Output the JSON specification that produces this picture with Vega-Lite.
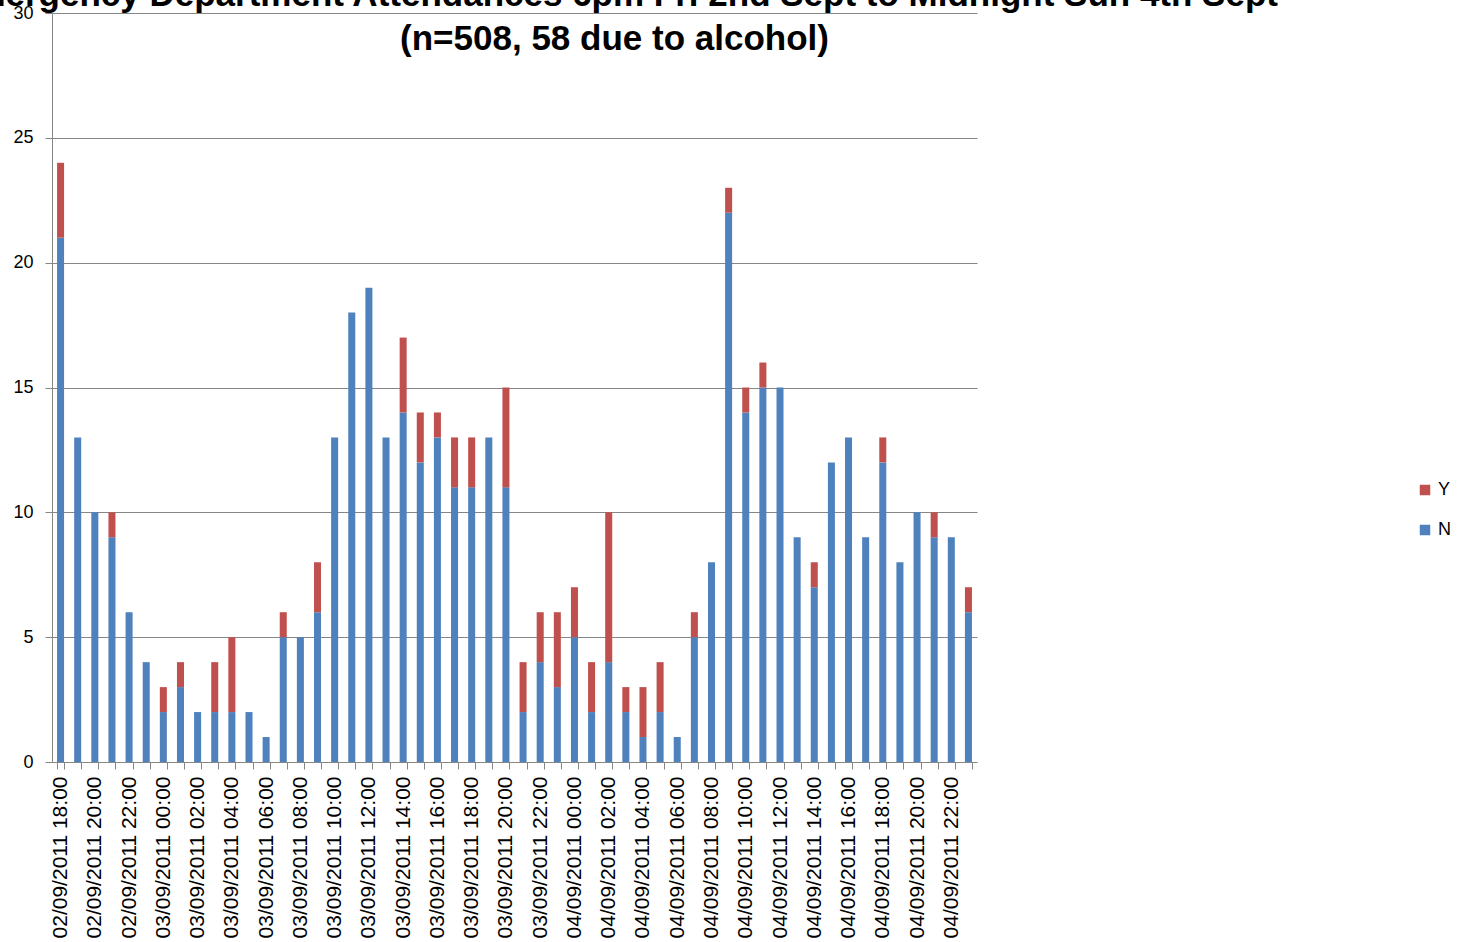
{
  "$schema": "https://vega.github.io/schema/vega-lite/v6.json",
  "autosize": {"type": "none"},
  "padding": {"left": 52, "top": 13, "right": 481, "bottom": 180},
  "width": 925,
  "height": 749,
  "background": "white",
  "title": {
    "text": ["Emergency Department Attendances 6pm Fri 2nd Sept to Midnight Sun 4th Sept", "(n=508, 58 due to alcohol)"],
    "font": "Liberation Sans",
    "fontSize": 35,
    "fontWeight": "bold",
    "color": "black",
    "anchor": "middle",
    "frame": "group",
    "baseline": "bottom",
    "lineHeight": 44,
    "dx": 100,
    "offset": -88
  },
  "data": {
    "values": [
      {"t": "02/09/2011 18:00", "alc": "N", "n": 21}, {"t": "02/09/2011 18:00", "alc": "Y", "n": 3},
      {"t": "02/09/2011 19:00", "alc": "N", "n": 13},
      {"t": "02/09/2011 20:00", "alc": "N", "n": 10},
      {"t": "02/09/2011 21:00", "alc": "N", "n": 9}, {"t": "02/09/2011 21:00", "alc": "Y", "n": 1},
      {"t": "02/09/2011 22:00", "alc": "N", "n": 6},
      {"t": "02/09/2011 23:00", "alc": "N", "n": 4},
      {"t": "03/09/2011 00:00", "alc": "N", "n": 2}, {"t": "03/09/2011 00:00", "alc": "Y", "n": 1},
      {"t": "03/09/2011 01:00", "alc": "N", "n": 3}, {"t": "03/09/2011 01:00", "alc": "Y", "n": 1},
      {"t": "03/09/2011 02:00", "alc": "N", "n": 2},
      {"t": "03/09/2011 03:00", "alc": "N", "n": 2}, {"t": "03/09/2011 03:00", "alc": "Y", "n": 2},
      {"t": "03/09/2011 04:00", "alc": "N", "n": 2}, {"t": "03/09/2011 04:00", "alc": "Y", "n": 3},
      {"t": "03/09/2011 05:00", "alc": "N", "n": 2},
      {"t": "03/09/2011 06:00", "alc": "N", "n": 1},
      {"t": "03/09/2011 07:00", "alc": "N", "n": 5}, {"t": "03/09/2011 07:00", "alc": "Y", "n": 1},
      {"t": "03/09/2011 08:00", "alc": "N", "n": 5},
      {"t": "03/09/2011 09:00", "alc": "N", "n": 6}, {"t": "03/09/2011 09:00", "alc": "Y", "n": 2},
      {"t": "03/09/2011 10:00", "alc": "N", "n": 13},
      {"t": "03/09/2011 11:00", "alc": "N", "n": 18},
      {"t": "03/09/2011 12:00", "alc": "N", "n": 19},
      {"t": "03/09/2011 13:00", "alc": "N", "n": 13},
      {"t": "03/09/2011 14:00", "alc": "N", "n": 14}, {"t": "03/09/2011 14:00", "alc": "Y", "n": 3},
      {"t": "03/09/2011 15:00", "alc": "N", "n": 12}, {"t": "03/09/2011 15:00", "alc": "Y", "n": 2},
      {"t": "03/09/2011 16:00", "alc": "N", "n": 13}, {"t": "03/09/2011 16:00", "alc": "Y", "n": 1},
      {"t": "03/09/2011 17:00", "alc": "N", "n": 11}, {"t": "03/09/2011 17:00", "alc": "Y", "n": 2},
      {"t": "03/09/2011 18:00", "alc": "N", "n": 11}, {"t": "03/09/2011 18:00", "alc": "Y", "n": 2},
      {"t": "03/09/2011 19:00", "alc": "N", "n": 13},
      {"t": "03/09/2011 20:00", "alc": "N", "n": 11}, {"t": "03/09/2011 20:00", "alc": "Y", "n": 4},
      {"t": "03/09/2011 21:00", "alc": "N", "n": 2}, {"t": "03/09/2011 21:00", "alc": "Y", "n": 2},
      {"t": "03/09/2011 22:00", "alc": "N", "n": 4}, {"t": "03/09/2011 22:00", "alc": "Y", "n": 2},
      {"t": "03/09/2011 23:00", "alc": "N", "n": 3}, {"t": "03/09/2011 23:00", "alc": "Y", "n": 3},
      {"t": "04/09/2011 00:00", "alc": "N", "n": 5}, {"t": "04/09/2011 00:00", "alc": "Y", "n": 2},
      {"t": "04/09/2011 01:00", "alc": "N", "n": 2}, {"t": "04/09/2011 01:00", "alc": "Y", "n": 2},
      {"t": "04/09/2011 02:00", "alc": "N", "n": 4}, {"t": "04/09/2011 02:00", "alc": "Y", "n": 6},
      {"t": "04/09/2011 03:00", "alc": "N", "n": 2}, {"t": "04/09/2011 03:00", "alc": "Y", "n": 1},
      {"t": "04/09/2011 04:00", "alc": "N", "n": 1}, {"t": "04/09/2011 04:00", "alc": "Y", "n": 2},
      {"t": "04/09/2011 05:00", "alc": "N", "n": 2}, {"t": "04/09/2011 05:00", "alc": "Y", "n": 2},
      {"t": "04/09/2011 06:00", "alc": "N", "n": 1},
      {"t": "04/09/2011 07:00", "alc": "N", "n": 5}, {"t": "04/09/2011 07:00", "alc": "Y", "n": 1},
      {"t": "04/09/2011 08:00", "alc": "N", "n": 8},
      {"t": "04/09/2011 09:00", "alc": "N", "n": 22}, {"t": "04/09/2011 09:00", "alc": "Y", "n": 1},
      {"t": "04/09/2011 10:00", "alc": "N", "n": 14}, {"t": "04/09/2011 10:00", "alc": "Y", "n": 1},
      {"t": "04/09/2011 11:00", "alc": "N", "n": 15}, {"t": "04/09/2011 11:00", "alc": "Y", "n": 1},
      {"t": "04/09/2011 12:00", "alc": "N", "n": 15},
      {"t": "04/09/2011 13:00", "alc": "N", "n": 9},
      {"t": "04/09/2011 14:00", "alc": "N", "n": 7}, {"t": "04/09/2011 14:00", "alc": "Y", "n": 1},
      {"t": "04/09/2011 15:00", "alc": "N", "n": 12},
      {"t": "04/09/2011 16:00", "alc": "N", "n": 13},
      {"t": "04/09/2011 17:00", "alc": "N", "n": 9},
      {"t": "04/09/2011 18:00", "alc": "N", "n": 12}, {"t": "04/09/2011 18:00", "alc": "Y", "n": 1},
      {"t": "04/09/2011 19:00", "alc": "N", "n": 8},
      {"t": "04/09/2011 20:00", "alc": "N", "n": 10},
      {"t": "04/09/2011 21:00", "alc": "N", "n": 9}, {"t": "04/09/2011 21:00", "alc": "Y", "n": 1},
      {"t": "04/09/2011 22:00", "alc": "N", "n": 9},
      {"t": "04/09/2011 23:00", "alc": "N", "n": 6}, {"t": "04/09/2011 23:00", "alc": "Y", "n": 1}
    ]
  },
  "mark": {"type": "bar"},
  "encoding": {
    "x": {
      "field": "t",
      "type": "ordinal",
      "sort": null,
      "title": null,
      "scale": {"paddingInner": 0.59, "paddingOuter": 0.295},
      "axis": {
        "labelAngle": 270,
        "labelFont": "Liberation Sans",
        "labelFontSize": 21,
        "labelColor": "black",
        "labelPadding": 7,
        "labelOverlap": false,
        "labelExpr": "parseInt(substring(datum.label, 11, 13)) % 2 == 0 ? datum.label : ''",
        "tickBand": "extent",
        "tickSize": 7,
        "tickColor": "#868686",
        "domainColor": "#868686",
        "grid": false
      }
    },
    "y": {
      "field": "n",
      "type": "quantitative",
      "aggregate": "sum",
      "stack": "zero",
      "title": null,
      "scale": {"domain": [0, 30], "nice": false},
      "axis": {
        "values": [0, 5, 10, 15, 20, 25, 30],
        "labelFont": "Liberation Sans",
        "labelFontSize": 18,
        "labelColor": "black",
        "labelPadding": 12,
        "tickSize": 7,
        "tickColor": "#868686",
        "domainColor": "#868686",
        "gridColor": "#868686",
        "gridWidth": 1
      }
    },
    "color": {
      "field": "alc",
      "type": "nominal",
      "title": null,
      "scale": {"domain": ["Y", "N"], "range": ["#C0504D", "#4F81BD"]},
      "legend": {
        "orient": "none",
        "legendX": 1364,
        "legendY": 468,
        "symbolType": "square",
        "symbolSize": 110,
        "symbolStrokeWidth": 0,
        "labelFont": "Liberation Sans",
        "labelFontSize": 18,
        "labelColor": "black",
        "labelOffset": 4,
        "rowPadding": 22
      }
    },
    "order": {"field": "alc", "sort": "ascending"}
  },
  "config": {
    "view": {"stroke": null},
    "axis": {"gridColor": "#868686"}
  }
}
